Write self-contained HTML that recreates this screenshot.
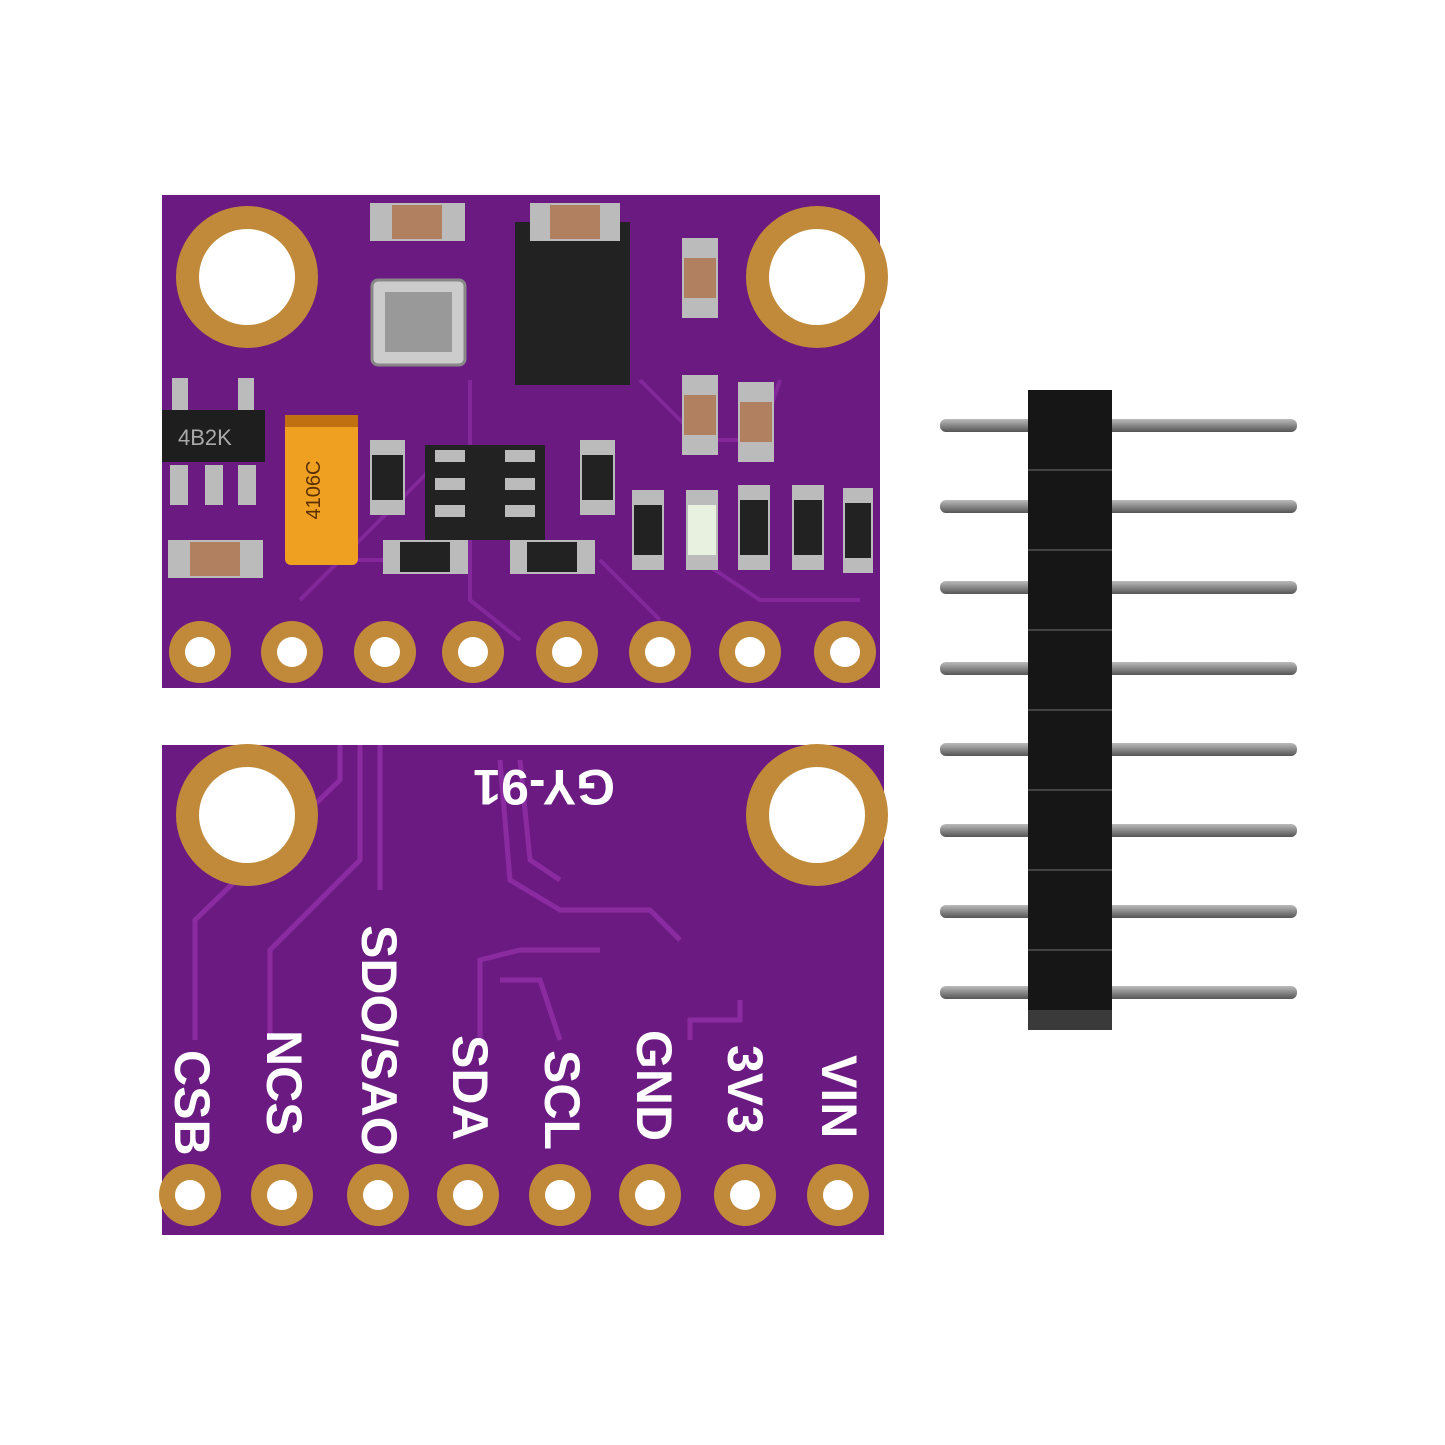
<!DOCTYPE html>
<html><head><style>html,body{margin:0;padding:0;background:#fff;width:1445px;height:1445px;overflow:hidden}</style></head>
<body>
<svg width="1445" height="1445" viewBox="0 0 1445 1445" xmlns="http://www.w3.org/2000/svg">
<defs>
<linearGradient id="pin" x1="0" y1="0" x2="0" y2="1"><stop offset="0" stop-color="#bbb"/><stop offset="0.5" stop-color="#888"/><stop offset="1" stop-color="#555"/></linearGradient>
</defs>
<!-- top board -->
<rect x="162" y="195" width="718" height="493" fill="#6b1a82"/>
<g stroke="#8a2ca0" stroke-width="4" fill="none" opacity="0.8">
<path d="M300 600 L340 560 L420 560"/><path d="M470 380 L470 600 L520 640"/><path d="M640 380 L700 440 L760 440 L780 380"/><path d="M430 470 L380 520 L300 600"/><path d="M600 560 L660 620"/><path d="M700 560 L760 600 L860 600"/>
</g>
<g fill="#c08a3a"><circle cx="247" cy="277" r="71"/><circle cx="817" cy="277" r="71"/></g>
<g fill="#fff"><circle cx="247" cy="277" r="48"/><circle cx="817" cy="277" r="48"/></g>
<g fill="#c08a3a">
<circle cx="200" cy="652" r="31"/><circle cx="292" cy="652" r="31"/><circle cx="385" cy="652" r="31"/><circle cx="473" cy="652" r="31"/><circle cx="567" cy="652" r="31"/><circle cx="660" cy="652" r="31"/><circle cx="750" cy="652" r="31"/><circle cx="845" cy="652" r="31"/>
</g>
<g fill="#fff">
<circle cx="200" cy="652" r="15"/><circle cx="292" cy="652" r="15"/><circle cx="385" cy="652" r="15"/><circle cx="473" cy="652" r="15"/><circle cx="567" cy="652" r="15"/><circle cx="660" cy="652" r="15"/><circle cx="750" cy="652" r="15"/><circle cx="845" cy="652" r="15"/>
</g>
<!-- components -->
<rect x="515" y="222" width="115" height="163" fill="#222"/>
<rect x="372" y="280" width="93" height="85" rx="6" fill="#ccc" stroke="#888" stroke-width="3"/>
<rect x="385" y="292" width="67" height="60" fill="#999"/>
<rect x="285" y="415" width="73" height="150" rx="6" fill="#f0a020"/>
<rect x="285" y="415" width="73" height="12" fill="#c07010"/>
<text x="0" y="0" transform="translate(320,490) rotate(-90)" font-family="Liberation Sans,sans-serif" font-size="20" fill="#5a3000" text-anchor="middle">4106C</text>
<rect x="162" y="410" width="103" height="52" fill="#1e1e1e"/>
<text x="178" y="445" font-family="Liberation Sans,sans-serif" font-size="22" fill="#aaa">4B2K</text>
<g fill="#bbb"><rect x="170" y="465" width="18" height="40"/><rect x="205" y="465" width="18" height="40"/><rect x="238" y="465" width="18" height="40"/><rect x="172" y="378" width="16" height="32"/><rect x="238" y="378" width="16" height="32"/></g>
<rect x="425" y="445" width="120" height="95" fill="#222"/>
<g fill="#bbb"><rect x="435" y="450" width="30" height="12"/><rect x="435" y="478" width="30" height="12"/><rect x="435" y="505" width="30" height="12"/><rect x="505" y="450" width="30" height="12"/><rect x="505" y="478" width="30" height="12"/><rect x="505" y="505" width="30" height="12"/></g>
<g>
<rect x="370" y="203" width="95" height="38" fill="#bbb"/><rect x="392" y="205" width="50" height="34" fill="#b08060"/>
<rect x="530" y="203" width="90" height="38" fill="#bbb"/><rect x="550" y="205" width="50" height="34" fill="#b08060"/>
<rect x="682" y="238" width="36" height="80" fill="#bbb"/><rect x="684" y="258" width="32" height="40" fill="#b08060"/>
<rect x="682" y="375" width="36" height="80" fill="#bbb"/><rect x="684" y="395" width="32" height="40" fill="#b08060"/>
<rect x="738" y="382" width="36" height="80" fill="#bbb"/><rect x="740" y="402" width="32" height="40" fill="#b08060"/>
<rect x="168" y="540" width="95" height="38" fill="#bbb"/><rect x="190" y="542" width="50" height="34" fill="#b08060"/>
<rect x="370" y="440" width="35" height="75" fill="#bbb"/><rect x="372" y="455" width="31" height="45" fill="#222"/>
<rect x="580" y="440" width="35" height="75" fill="#bbb"/><rect x="582" y="455" width="31" height="45" fill="#222"/>
<rect x="383" y="540" width="85" height="34" fill="#bbb"/><rect x="400" y="542" width="50" height="30" fill="#222"/>
<rect x="510" y="540" width="85" height="34" fill="#bbb"/><rect x="527" y="542" width="50" height="30" fill="#222"/>
<rect x="632" y="490" width="32" height="80" fill="#bbb"/><rect x="634" y="505" width="28" height="50" fill="#222"/>
<rect x="686" y="490" width="32" height="80" fill="#bbb"/><rect x="688" y="505" width="28" height="50" fill="#e8f0e0"/>
<rect x="738" y="485" width="32" height="85" fill="#bbb"/><rect x="740" y="500" width="28" height="55" fill="#222"/>
<rect x="792" y="485" width="32" height="85" fill="#bbb"/><rect x="794" y="500" width="28" height="55" fill="#222"/>
<rect x="843" y="488" width="30" height="85" fill="#bbb"/><rect x="845" y="503" width="26" height="55" fill="#222"/>
</g>
<!-- bottom board -->
<rect x="162" y="745" width="722" height="490" fill="#6b1a82"/>
<g stroke="#8a2ca0" stroke-width="5" fill="none">
<path d="M195 1040 L195 920 L340 780 L340 745"/><path d="M270 1040 L270 950 L360 860 L360 745"/><path d="M380 745 L380 890"/><path d="M480 1040 L480 960 L520 950 L600 950"/><path d="M560 1040 L540 980 L500 980"/><path d="M500 760 L510 880 L560 910 L650 910 L680 940"/><path d="M520 760 L530 860 L560 880"/><path d="M690 1040 L690 1020 L740 1020 L740 1000"/>
</g>
<g fill="#c08a3a"><circle cx="247" cy="815" r="71"/><circle cx="817" cy="815" r="71"/></g>
<g fill="#fff"><circle cx="247" cy="815" r="48"/><circle cx="817" cy="815" r="48"/></g>
<g fill="#c08a3a">
<circle cx="190" cy="1195" r="31"/><circle cx="282" cy="1195" r="31"/><circle cx="378" cy="1195" r="31"/><circle cx="468" cy="1195" r="31"/><circle cx="560" cy="1195" r="31"/><circle cx="650" cy="1195" r="31"/><circle cx="745" cy="1195" r="31"/><circle cx="838" cy="1195" r="31"/>
</g>
<g fill="#fff">
<circle cx="190" cy="1195" r="15"/><circle cx="282" cy="1195" r="15"/><circle cx="378" cy="1195" r="15"/><circle cx="468" cy="1195" r="15"/><circle cx="560" cy="1195" r="15"/><circle cx="650" cy="1195" r="15"/><circle cx="745" cy="1195" r="15"/><circle cx="838" cy="1195" r="15"/>
</g>
<g font-family="Liberation Sans,sans-serif" font-size="50" font-weight="bold" fill="#fff">
<text transform="translate(175,1050) rotate(90)">CSB</text>
<text transform="translate(267,1030) rotate(90)">NCS</text>
<text transform="translate(362,925) rotate(90)">SDO/SAO</text>
<text transform="translate(453,1035) rotate(90)">SDA</text>
<text transform="translate(545,1050) rotate(90)">SCL</text>
<text transform="translate(637,1030) rotate(90)">GND</text>
<text transform="translate(728,1045) rotate(90)">3V3</text>
<text transform="translate(822,1055) rotate(90)">VIN</text>
<text transform="translate(615,770) rotate(180)">GY-91</text>
</g>
<!-- header -->
<g fill="url(#pin)">
<rect x="940" y="419" width="357" height="13" rx="6"/><rect x="940" y="500" width="357" height="13" rx="6"/><rect x="940" y="581" width="357" height="13" rx="6"/><rect x="940" y="662" width="357" height="13" rx="6"/><rect x="940" y="743" width="357" height="13" rx="6"/><rect x="940" y="824" width="357" height="13" rx="6"/><rect x="940" y="905" width="357" height="13" rx="6"/><rect x="940" y="986" width="357" height="13" rx="6"/>
</g>
<rect x="1028" y="390" width="84" height="640" fill="#161616"/>
<g stroke="#444" stroke-width="2">
<line x1="1028" y1="470" x2="1112" y2="470"/><line x1="1028" y1="550" x2="1112" y2="550"/><line x1="1028" y1="630" x2="1112" y2="630"/><line x1="1028" y1="710" x2="1112" y2="710"/><line x1="1028" y1="790" x2="1112" y2="790"/><line x1="1028" y1="870" x2="1112" y2="870"/><line x1="1028" y1="950" x2="1112" y2="950"/>
</g>
<rect x="1028" y="1010" width="84" height="20" fill="#3a3a3a"/>
</svg>
</body></html>
